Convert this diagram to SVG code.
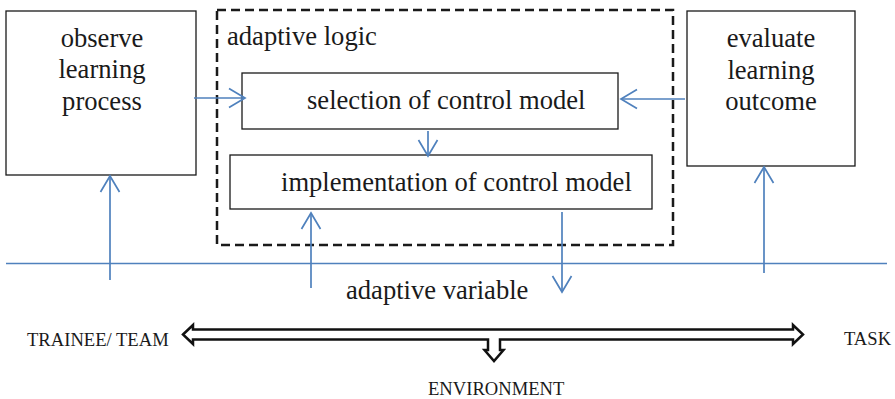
<svg xmlns="http://www.w3.org/2000/svg" width="895" height="399" viewBox="0 0 895 399">
<defs>
<style>
.box{fill:#fff;stroke:#1a1a1a;stroke-width:1.3}
.c{stroke:#4F81BD;stroke-width:1.7;fill:none}
</style>
<marker id="ah" viewBox="-18 -11 20 22" markerWidth="20" markerHeight="22" refX="0" refY="0" markerUnits="userSpaceOnUse" orient="auto">
<path d="M-16,-9.5 L0,0 L-16,9.5" fill="none" stroke="#4F81BD" stroke-width="1.7"/>
</marker>
</defs>
<rect width="895" height="399" fill="#fff"/>
<g font-family="Times New Roman, Liberation Serif, serif" font-size="26.6" fill="#1a1a1a">
<g id="adaptive-logic">
<rect x="217" y="10" width="456" height="235" fill="none" stroke="#1a1a1a" stroke-width="2.5" stroke-dasharray="9,5"/>
<text x="227" y="45">adaptive logic</text>
</g>
<g id="observe">
<rect class="box" x="6" y="11" width="190" height="164"/>
<text text-anchor="middle" x="102" y="47">observe</text>
<text text-anchor="middle" x="102" y="78">learning</text>
<text text-anchor="middle" x="102" y="110">process</text>
</g>
<g id="evaluate">
<rect class="box" x="687" y="11" width="168" height="155"/>
<text text-anchor="middle" x="771" y="47">evaluate</text>
<text text-anchor="middle" x="771" y="79">learning</text>
<text text-anchor="middle" x="771" y="110">outcome</text>
</g>
<g id="selection">
<rect class="box" x="242" y="73" width="376" height="56"/>
<text x="307" y="109">selection of control model</text>
</g>
<g id="implementation">
<rect class="box" x="230" y="155" width="422" height="54"/>
<text x="281" y="191">implementation of control model</text>
</g>
<g id="connectors">
<path class="c" d="M6,263.5 L887,263.5"/>
<path class="c" d="M194,98 L245,98" marker-end="url(#ah)"/>
<path class="c" d="M685,99 L621,99" marker-end="url(#ah)"/>
<path class="c" d="M428,131 L428,156" marker-end="url(#ah)"/>
<path class="c" d="M110,280 L110,176" marker-end="url(#ah)"/>
<path class="c" d="M311,288 L311,213" marker-end="url(#ah)"/>
<path class="c" d="M562,212 L562,292" marker-end="url(#ah)"/>
<path class="c" d="M764,273 L764,167" marker-end="url(#ah)"/>
</g>
<g id="adaptive-variable">
<text x="346" y="299">adaptive variable</text>
</g>
<g id="block-arrow">
<polygon points="183,334.5 193,325 193,329.5 793,329.5 793,325 803,334.5 793,344 793,339.5 500,339.5 500,350 503.5,350 494,361 484.5,350 488,350 488,339.5 193,339.5 193,344" fill="#fff" stroke="#111" stroke-width="2.5" stroke-linejoin="miter"/>
</g>
<g id="trainee"><text font-size="18.6" x="27" y="346">TRAINEE/ TEAM</text></g>
<g id="task"><text font-size="18.6" x="844" y="345">TASK</text></g>
<g id="environment"><text font-size="18.6" x="428" y="395">ENVIRONMENT</text></g>
</g>
</svg>
